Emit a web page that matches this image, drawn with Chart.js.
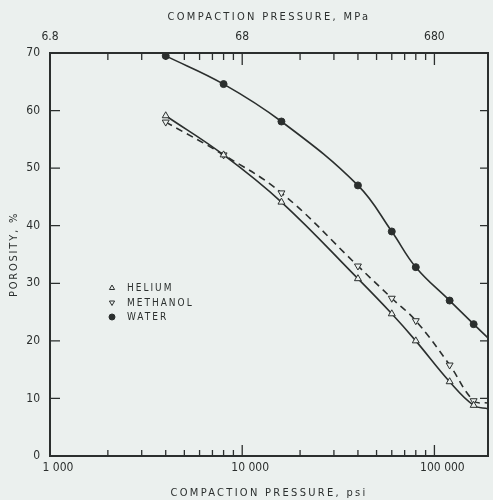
<!DOCTYPE html>
<html>
<head>
<meta charset="utf-8">
<script src="https://cdn.jsdelivr.net/npm/chart.js@4.4.1/dist/chart.umd.min.js"></script>
<style>
  html, body { margin: 0; padding: 0; background: #ebf0ee; }
  #wrap { width: 493px; height: 500px; position: relative; }
</style>
</head>
<body>
<div id="wrap"><canvas id="canvas"></canvas></div>
<script>
// compaction pressure in psi; the last column is where the curves run off the frame
var pressurePsi = [4000, 8000, 16000, 40000, 60000, 80000, 120000, 160000, 190000];
var helium   = [59.1, 52.3, 44.1, 30.8, 24.7, 20.0, 12.9, 8.8, 8.2];
var methanol = [58.0, 52.3, 45.7, 33.0, 27.4, 23.5, 15.8, 9.6, 9.2];
var water    = [69.5, 64.6, 58.1, 47.0, 39.0, 32.8, 27.0, 22.9, 20.5];
var measuredCount = 8;

var psiTicks = [1000, 10000, 100000];
var psiLabels = ['1 000', '10 000', '100 000'];
var mpaLabels = ['6.8', '68', '680'];
var porosityTicks = [0, 10, 20, 30, 40, 50, 60, 70];

var ink = '#2b2f2e';
var paper = '#ebf0ee';
var family = "'DejaVu Sans Condensed', 'DejaVu Sans', sans-serif";

function points(values) {
    return pressurePsi.map(function(p, i) { return {x: p, y: values[i]}; });
}

function markerSize(r) {
    return function(c) { return c.dataIndex < measuredCount ? r : 0; };
}

// letter spaced axis titles, like the typed original
function spaceTitle(scale, px) {
    if (scale._spaced) return;
    var orig = scale.drawTitle;
    scale.drawTitle = function() {
        var c = this.ctx;
        c.save();
        c.letterSpacing = px;
        orig.apply(this, arguments);
        c.restore();
    };
    scale._spaced = true;
}

var framePlugin = {
    id: 'frame',
    beforeDraw: function(chart) {
        spaceTitle(chart.scales.x, '2.3px');
        spaceTitle(chart.scales.x2, '2.3px');
        spaceTitle(chart.scales.y, '1.8px');
    },
    afterDraw: function(chart) {
        var ctx = chart.ctx;
        var a = chart.chartArea;
        var xs = chart.scales.x;
        var ys = chart.scales.y;
        ctx.save();
        ctx.strokeStyle = ink;
        ctx.lineWidth = 2;
        ctx.strokeRect(a.left, a.top, a.right - a.left, a.bottom - a.top);

        // tick marks point into the plot
        ctx.lineWidth = 1.3;
        ctx.beginPath();
        psiTicks.forEach(function(d) {
            for (var m = 1; m <= 9; m++) {
                var v = d * m;
                if (v > xs.max) break;
                var px = xs.getPixelForValue(v);
                var len = m == 1 ? 11 : 6;
                ctx.moveTo(px, a.bottom); ctx.lineTo(px, a.bottom - len);
                ctx.moveTo(px, a.top); ctx.lineTo(px, a.top + len + 1);
            }
        });
        porosityTicks.forEach(function(v) {
            var py = ys.getPixelForValue(v);
            ctx.moveTo(a.left, py); ctx.lineTo(a.left + 10, py);
            ctx.moveTo(a.right, py); ctx.lineTo(a.right - 8, py);
        });
        ctx.stroke();

        // legend inside the plot
        var lx = 112, ly = 288, step = 14.5;
        ctx.font = '10px ' + family;
        ctx.letterSpacing = '2px';
        ctx.textBaseline = 'middle';
        chart.data.datasets.forEach(function(ds, i) {
            var y = ly + i * step;
            ctx.fillStyle = ds.pointBackgroundColor;
            ctx.strokeStyle = ink;
            ctx.lineWidth = 1;
            Chart.helpers.drawPoint(ctx, {
                pointStyle: ds.pointStyle,
                rotation: ds.pointRotation || 0,
                radius: 3,
                borderWidth: 1
            }, lx, y);
            ctx.fillStyle = ink;
            ctx.fillText(ds.label, lx + 15, y + 0.5);
        });
        ctx.restore();
    }
};

var config = {
    type: 'line',
    data: {
        datasets: [{
            label: 'HELIUM',
            data: points(helium),
            borderColor: ink,
            borderWidth: 1.6,
            pointStyle: 'triangle',
            pointRadius: markerSize(4),
            pointBorderWidth: 1,
            pointBorderColor: ink,
            pointBackgroundColor: paper,
            tension: 0.4
        }, {
            label: 'METHANOL',
            data: points(methanol),
            borderColor: ink,
            borderWidth: 1.6,
            borderDash: [7, 5],
            pointStyle: 'triangle',
            pointRotation: 180,
            pointRadius: markerSize(4),
            pointBorderWidth: 1,
            pointBorderColor: ink,
            pointBackgroundColor: paper,
            tension: 0.4
        }, {
            label: 'WATER',
            data: points(water),
            borderColor: ink,
            borderWidth: 1.6,
            pointStyle: 'circle',
            pointRadius: markerSize(3.5),
            pointBorderWidth: 1,
            pointBorderColor: ink,
            pointBackgroundColor: ink,
            tension: 0.4
        }]
    },
    options: {
        responsive: true,
        maintainAspectRatio: false,
        animation: false,
        layout: { padding: { left: 0, right: 2, top: 0, bottom: 0 } },
        plugins: {
            legend: { display: false },
            tooltip: { enabled: false }
        },
        scales: {
            x: {
                type: 'logarithmic',
                position: 'bottom',
                min: 1000,
                max: 190000,
                afterBuildTicks: function(s) { s.ticks = psiTicks.map(function(v) { return {value: v}; }); },
                afterFit: function(s) { s.height = 44; },
                grid: { display: false, drawTicks: false },
                border: { display: false },
                ticks: {
                    callback: function(v, i) { return psiLabels[i]; },
                    color: ink,
                    font: { family: family, size: 12 },
                    padding: 5,
                    labelOffset: 8,
                    maxRotation: 0,
                    autoSkip: false
                },
                title: {
                    display: true,
                    text: 'COMPACTION PRESSURE, psi',
                    color: ink,
                    font: { family: family, size: 11 },
                    padding: { top: 0, bottom: 0 }
                }
            },
            x2: {
                type: 'logarithmic',
                position: 'top',
                min: 1000,
                max: 190000,
                afterBuildTicks: function(s) { s.ticks = psiTicks.map(function(v) { return {value: v}; }); },
                afterFit: function(s) { s.height = 53; },
                grid: { display: false, drawTicks: false },
                border: { display: false },
                ticks: {
                    callback: function(v, i) { return mpaLabels[i]; },
                    color: ink,
                    font: { family: family, size: 12 },
                    padding: 9,
                    maxRotation: 0,
                    autoSkip: false
                },
                title: {
                    display: true,
                    text: 'COMPACTION PRESSURE, MPa',
                    color: ink,
                    font: { family: family, size: 11 },
                    padding: { top: 11, bottom: 0 }
                }
            },
            y: {
                min: 0,
                max: 70,
                afterBuildTicks: function(s) { s.ticks = porosityTicks.map(function(v) { return {value: v}; }); },
                afterFit: function(s) { s.width = 50; },
                grid: { display: false, drawTicks: false },
                border: { display: false },
                ticks: {
                    color: ink,
                    font: { family: family, size: 12 },
                    padding: 10
                },
                title: {
                    display: true,
                    text: 'POROSITY, %',
                    color: ink,
                    font: { family: family, size: 11 },
                    padding: { top: 8, bottom: 0 }
                }
            }
        }
    },
    plugins: [framePlugin]
};

var ctx = document.getElementById('canvas');
window.myChart = new Chart(ctx, config);
</script>
</body>
</html>
